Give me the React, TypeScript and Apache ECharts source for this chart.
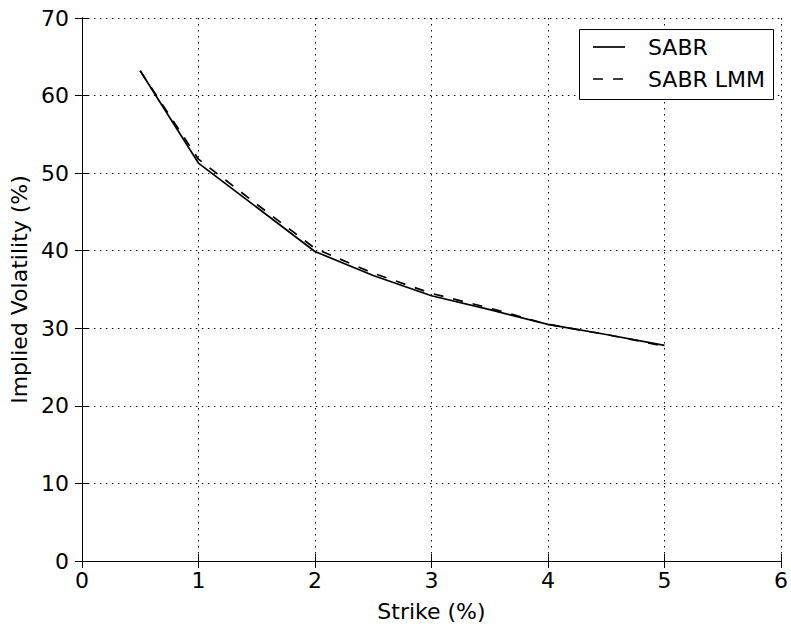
import React, { useEffect, useRef } from "react";
import * as echarts from "echarts";

const strikes = [0.5, 1.0, 1.5, 2.0, 2.5, 3.0, 3.5, 4.0, 4.5, 5.0];
const sabr = [63.2, 51.3, 45.6, 39.9, 36.8, 34.2, 32.4, 30.5, 29.2, 27.8];
const sabrLmm = [63.2, 51.8, 46.0, 40.3, 37.1, 34.5, 32.6, 30.5, 29.2, 27.7];
const seriesNames = ["SABR", "SABR LMM"];

const FONT = "DejaVu Sans";
const FS = 22;
const DASH = [10, 10];

export default function App() {
  const ref = useRef<HTMLDivElement>(null);
  useEffect(() => {
    const chart = echarts.init(ref.current!, null, { renderer: "svg" });
    const axisLine = { show: true, lineStyle: { color: "#000", width: 1 } };
    const tick = { show: true, inside: true, length: 7, lineStyle: { color: "#000", width: 1 } };
    const label = { color: "#000", fontSize: FS, fontFamily: FONT };
    const grid = { show: true, lineStyle: { color: "#000", type: [1.5, 4.5], width: 1 } };
    chart.setOption({
      animation: false,
      backgroundColor: "#fff",
      grid: { left: 81, right: 9, top: 18, bottom: 65, containLabel: false },
      graphic: [
        {
          type: "rect",
          shape: { x: 579.5, y: 29.5, width: 194, height: 70 },
          style: { fill: "#fff", stroke: "#000", lineWidth: 1 },
          z: 100,
        },
        {
          type: "line",
          shape: { x1: 593, y1: 47, x2: 625, y2: 47 },
          style: { stroke: "#000", lineWidth: 1.7 },
          z: 101,
        },
        {
          type: "line",
          shape: { x1: 593, y1: 79, x2: 625, y2: 79 },
          style: { stroke: "#000", lineWidth: 1.7, lineDash: DASH },
          z: 101,
        },
        {
          type: "text",
          x: 648,
          y: 47,
          style: { text: seriesNames[0], fill: "#000", fontSize: FS, fontFamily: FONT, verticalAlign: "middle" },
          z: 101,
        },
        {
          type: "text",
          x: 648,
          y: 79,
          style: { text: seriesNames[1], fill: "#000", fontSize: FS, fontFamily: FONT, verticalAlign: "middle" },
          z: 101,
        },
      ],
      xAxis: [
        {
          type: "value",
          min: 0,
          max: 6,
          interval: 1,
          name: "Strike (%)",
          nameLocation: "middle",
          nameGap: 39,
          nameTextStyle: { color: "#000", fontSize: FS, fontFamily: FONT },
          axisLine,
          axisTick: tick,
          axisLabel: { ...label, margin: 8, showMaxLabel: true, showMinLabel: true },
          splitLine: grid,
        },
        {
          type: "value",
          position: "top",
          min: 0,
          max: 6,
          interval: 1,
          axisLine,
          axisTick: tick,
          axisLabel: { show: false },
          splitLine: { show: false },
        },
      ],
      yAxis: [
        {
          type: "value",
          min: 0,
          max: 70,
          interval: 10,
          name: "Implied Volatility (%)",
          nameLocation: "middle",
          nameGap: 48,
          nameTextStyle: { color: "#000", fontSize: FS, fontFamily: FONT },
          axisLine,
          axisTick: tick,
          axisLabel: { ...label, margin: 13 },
          splitLine: grid,
        },
        {
          type: "value",
          position: "right",
          min: 0,
          max: 70,
          interval: 10,
          axisLine,
          axisTick: tick,
          axisLabel: { show: false },
          splitLine: { show: false },
        },
      ],
      series: [
        {
          name: seriesNames[0],
          type: "line",
          symbol: "none",
          data: strikes.map((x, i) => [x, sabr[i]]),
          lineStyle: { color: "#000", width: 1.7, type: "solid" },
          itemStyle: { color: "#000" },
        },
        {
          name: seriesNames[1],
          type: "line",
          symbol: "none",
          data: strikes.map((x, i) => [x, sabrLmm[i]]),
          lineStyle: { color: "#000", width: 1.7, type: DASH },
          itemStyle: { color: "#000" },
        },
      ],
    });
    return () => chart.dispose();
  }, []);
  return (
    <div
      ref={ref}
      style={{ position: "absolute", left: 0, top: 0, width: 791, height: 627 }}
    />
  );
}
